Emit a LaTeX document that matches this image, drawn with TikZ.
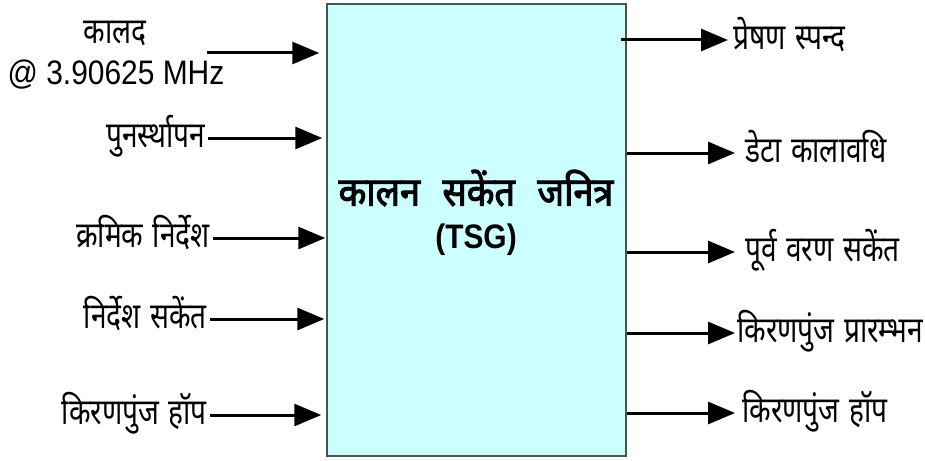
\documentclass[tikz,border=0pt]{standalone}
\usepackage{fontspec}
\setmainfont[FakeStretch=0.88]{Liberation Sans}
\newfontfamily\deva[Script=Devanagari, FakeStretch=0.78, WordSpace=1.3]{Noto Sans}
\newfontfamily\devabold[Script=Devanagari, FakeStretch=0.9, FakeBold=2.5, WordSpace=2.4]{Noto Sans}
\usetikzlibrary{positioning,arrows.meta}
\definecolor{boxcyan}{RGB}{204,255,255}
\definecolor{boxline}{RGB}{80,80,80}
\tikzset{
    sig/.style={line width=3pt, -{Triangle[length=27pt,width=22pt]}},
    lbl/.style={font=\deva\fontsize{36}{40}\selectfont, inner sep=0pt,
        text height=19pt, text depth=0pt},
}

\begin{document}
\begin{tikzpicture}[x=1pt,y=-1pt]
    \useasboundingbox (0,0) rectangle (925,460);
    % Block
    \node[draw=boxline, line width=1.5pt, fill=boxcyan, inner sep=0pt,
        minimum width=299pt, minimum height=452pt] (tsg) at (476.5,230) {};
    \node[font=\devabold\fontsize{40}{44}\selectfont] (title) at (476,188) {कालन सकेंत जनित्र};
    \node[font=\bfseries\fontsize{34}{40}\selectfont] (abbr) at (476,240) {(TSG)};
    % Inputs
    \node[lbl, anchor=south] (clk) at (115,44) {कालद};
    \node[font=\fontsize{34}{40}\selectfont, inner sep=0pt] (freq) at (116,75) {@ 3.90625 MHz};
    \coordinate (clkin) at (207,53);
    \node[lbl, anchor=east] (reset) at (205,138) {पुनर्स्थापन};
    \node[lbl, anchor=east] (seq) at (210,238) {क्रमिक निर्देश};
    \node[lbl, anchor=east] (cmd) at (207,319) {निर्देश सकेंत};
    \node[lbl, anchor=east] (hopin) at (207,415) {किरणपुंज हॉप};
    \draw[sig, shorten >=7pt] (clkin) -- (clkin -| tsg.west);
    \draw[sig, shorten <=3pt, shorten >=4pt] (reset.east) -- (reset.east -| tsg.west);
    \draw[sig, shorten <=3pt, shorten >=1pt] (seq.east) -- (seq.east -| tsg.west);
    \draw[sig, shorten <=3pt, shorten >=2pt] (cmd.east) -- (cmd.east -| tsg.west);
    \draw[sig, shorten <=3pt, shorten >=5pt] (hopin.east) -- (hopin.east -| tsg.west);
    % Outputs
    \node[lbl, anchor=west] (txp) at (733,40) {प्रेषण स्पन्द};
    \node[lbl, anchor=west] (dur) at (745,153) {डेटा कालावधि};
    \node[lbl, anchor=west] (pre) at (745,252) {पूर्व वरण सकेंत};
    \node[lbl, anchor=west] (bst) at (737,333) {किरणपुंज प्रारम्भन};
    \node[lbl, anchor=west] (hopout) at (742,413) {किरणपुंज हॉप};
    \draw[sig, shorten <=-6pt, shorten >=5pt] (txp.west -| tsg.east) -- (txp.west);
    \draw[sig, shorten >=10pt] (dur.west -| tsg.east) -- (dur.west);
    \draw[sig, shorten >=10pt] (pre.west -| tsg.east) -- (pre.west);
    \draw[sig, shorten >=2pt] (bst.west -| tsg.east) -- (bst.west);
    \draw[sig, shorten >=7pt] (hopout.west -| tsg.east) -- (hopout.west);
\end{tikzpicture}
\end{document}
